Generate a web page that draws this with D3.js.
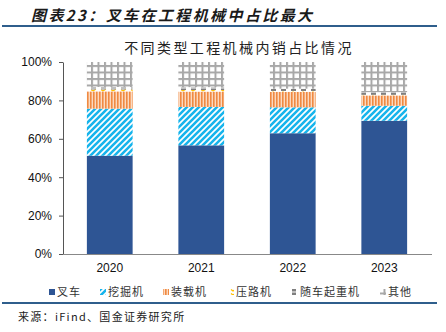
<!DOCTYPE html>
<html><head><meta charset="utf-8">
<script src="https://cdn.jsdelivr.net/npm/d3@7"></script>
<style>body{margin:0;background:#fff}svg{display:block}</style>
</head><body>
<script>
const years = ["2020","2021","2022","2023"];
const seriesNames = ["叉车","挖掘机","装载机","压路机","随车起重机","其他"];
const forklift  = [51.2, 56.6, 62.9, 69.4];
const excavator = [24.5, 20.0, 13.5, 7.8];
const loader    = [9.0, 8.0, 8.0, 5.4];
const roller    = [1.0, 0.8, 0.5, 0.3];
const crane     = [1.3, 1.5, 1.2, 1.4];
const others    = [13.0, 13.1, 13.9, 15.7];
const yTicks = [0,20,40,60,80,100];

const W=446,H=332;
const svg=d3.select("body").append("svg").attr("width",W).attr("height",H);
const defs=svg.append("defs");
function pat(id,w,h,fn){const p=defs.append("pattern").attr("id",id).attr("patternUnits","userSpaceOnUse").attr("width",w).attr("height",h);fn(p);}
pat("p1",4,4,p=>{p.append("rect").attr("width",4).attr("height",4).attr("fill","#2E5594");});
pat("p2",6,6,p=>{p.append("rect").attr("width",6).attr("height",6).attr("fill","#fff");
  p.append("path").attr("d","M-1,7 L7,-1 M-4,4 L4,-4 M2,10 L10,2").attr("stroke","#16B4EC").attr("stroke-width",2.6);});
pat("p3",3,4,p=>{p.append("rect").attr("width",3).attr("height",4).attr("fill","#FBD9BF");
  p.append("rect").attr("width",1.6).attr("height",4).attr("fill","#F08A42");});
pat("p4",10,4,p=>{p.append("rect").attr("width",10).attr("height",4).attr("fill","#fff");
  p.append("path").attr("d","M1,1.5 L3,3 L6,1").attr("stroke","#FFC000").attr("fill","none").attr("stroke-width",1.3);});
pat("p5",10,4,p=>{p.append("rect").attr("width",10).attr("height",4).attr("fill","#fff");
  p.append("rect").attr("x",1).attr("y",0.5).attr("width",5).attr("height",3).attr("fill","#7F7F7F");});
pat("p6",6.5,6.5,p=>{p.append("rect").attr("width",6.5).attr("height",6.5).attr("fill","#fff");
  p.append("rect").attr("x",0).attr("width",2).attr("height",6.5).attr("fill","#A8A8A8");
  p.append("rect").attr("y",0).attr("width",6.5).attr("height",2).attr("fill","#A8A8A8");});
const fills=["url(#p1)","url(#p2)","url(#p3)","url(#p4)","url(#p5)","url(#p6)"];

// header
svg.append("text").attr("x",31).attr("y",21).text("图表23：叉车在工程机械中占比最大")
  .attr("font-family","Noto Sans CJK SC").attr("font-size",15).attr("font-weight","bold").attr("font-style","italic")
  .attr("letter-spacing",2.4).attr("fill","#1a1a1a");
svg.append("line").attr("x1",2).attr("x2",437).attr("y1",26).attr("y2",26).attr("stroke","#2F5E8C").attr("stroke-width",2);
svg.append("text").attr("x",239).attr("y",53).attr("text-anchor","middle").text("不同类型工程机械内销占比情况")
  .attr("font-family","Noto Sans CJK SC").attr("font-size",14).attr("letter-spacing",2.4).attr("fill","#222");

const x=d3.scaleBand().domain(years).range([64,430]).paddingInner(0.5).paddingOuter(0.25);
const y=d3.scaleLinear().domain([0,100]).range([254,62]);

const rows=years.map((yr,i)=>({year:yr,"叉车":forklift[i],"挖掘机":excavator[i],"装载机":loader[i],"压路机":roller[i],"随车起重机":crane[i],"其他":others[i]}));
const stack=d3.stack().keys(seriesNames)(rows);
svg.append("g").selectAll("g").data(stack).join("g").attr("fill",(d,i)=>fills[i])
  .selectAll("rect").data(d=>d).join("rect")
  .attr("x",d=>x(d.data.year)).attr("width",x.bandwidth())
  .attr("y",d=>y(Math.min(100,d[1]))).attr("height",d=>y(d[0])-y(Math.min(100,d[1])));

// axes
const ya=svg.append("g").attr("transform","translate(63,0)").call(d3.axisLeft(y).tickValues(yTicks).tickFormat(d=>d+"%").tickSize(4).tickSizeOuter(0));
ya.select(".domain").attr("stroke","#555");
ya.selectAll(".tick line").attr("stroke","#555");
ya.selectAll("text").attr("font-family","Liberation Sans, Arial").attr("font-size",12).attr("fill","#111").attr("dx",-4);
const xa=svg.append("g").attr("transform","translate(0,254)").call(d3.axisBottom(x).tickSize(0).tickSizeOuter(0));
xa.select(".domain").attr("stroke","#888").attr("d","M63,0.5H432");
xa.selectAll("text").attr("font-family","Liberation Sans, Arial").attr("font-size",12).attr("fill","#111").attr("dy","1.25em");

// legend
const legX=[49,100,163,228,292,380];
const lg=svg.append("g");
seriesNames.forEach((n,i)=>{
  lg.append("rect").attr("x",legX[i]).attr("y",289).attr("width",6).attr("height",6).attr("fill",fills[i]);
  lg.append("text").attr("x",legX[i]+8).attr("y",296).text(n).attr("font-family","Noto Sans CJK SC").attr("font-size",11)
    .attr("letter-spacing",1).attr("fill","#333");
});
svg.append("line").attr("x1",2).attr("x2",437).attr("y1",303).attr("y2",303).attr("stroke","#2F5E8C").attr("stroke-width",2);
svg.append("text").attr("x",18).attr("y",321).text("来源：iFind、国金证券研究所").attr("font-family","Noto Sans CJK SC").attr("font-size",11)
  .attr("letter-spacing",1.3).attr("fill","#222");
</script>
</body></html>
